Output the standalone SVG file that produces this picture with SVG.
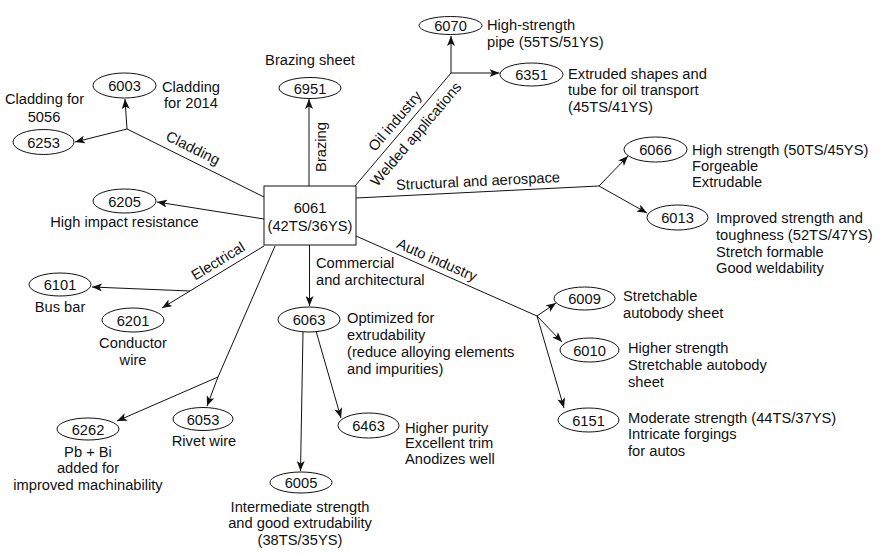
<svg xmlns="http://www.w3.org/2000/svg" width="883" height="555" viewBox="0 0 883 555">
<defs>
<marker id="ah" viewBox="0 0 10 8" refX="10" refY="4" markerWidth="10" markerHeight="8" markerUnits="userSpaceOnUse" orient="auto">
<path d="M0,0 L10,4 L0,8 L2.5,4 z" fill="#111"/>
</marker>
<style>
text{font-family:"Liberation Sans",Arial,sans-serif;font-size:14.7px;fill:#111}
.c{text-anchor:middle}
.n ellipse{fill:#fff;stroke:#111;stroke-width:1}
.n text{text-anchor:middle}
#conn line,#conn polyline{stroke:#111;stroke-width:1;fill:none}
.a{marker-end:url(#ah)}
</style>
</defs>
<rect width="883" height="555" fill="#fff"/>

<g id="conn">
<line x1="264" y1="197" x2="127" y2="129"/>
<line class="a" x1="127" y1="129" x2="125" y2="99"/>
<line class="a" x1="127" y1="129" x2="75" y2="142"/>
<line class="a" x1="264" y1="219" x2="157" y2="202"/>
<line class="a" x1="264" y1="246" x2="162" y2="308"/>
<line class="a" x1="190" y1="291" x2="92" y2="287"/>
<line x1="275" y1="246" x2="218" y2="377"/>
<line class="a" x1="218" y1="377" x2="207" y2="406"/>
<line class="a" x1="218" y1="377" x2="117" y2="421"/>
<line class="a" x1="309.5" y1="245" x2="309.5" y2="306"/>
<line class="a" x1="303" y1="332" x2="300.5" y2="471"/>
<line class="a" x1="316" y1="331" x2="341" y2="418"/>
<line class="a" x1="309" y1="186" x2="309" y2="99"/>
<line x1="355" y1="186" x2="451" y2="73"/>
<line class="a" x1="451" y1="73" x2="451" y2="36"/>
<line class="a" x1="451" y1="73" x2="499.5" y2="73"/>
<line x1="356" y1="198" x2="599" y2="186"/>
<line class="a" x1="599" y1="186" x2="628" y2="156"/>
<line class="a" x1="599" y1="186" x2="647" y2="213"/>
<line x1="356" y1="236" x2="537" y2="316"/>
<line class="a" x1="537" y1="316" x2="556" y2="303"/>
<line class="a" x1="537" y1="316" x2="562" y2="342"/>
<line class="a" x1="537" y1="316" x2="564" y2="408"/>
</g>

<g id="labels">
<text class="c" transform="translate(193,148) rotate(26.4)" y="5">Cladding</text>
<text class="c" transform="translate(320.5,147) rotate(-90)" y="5">Brazing</text>
<text class="c" transform="translate(395,121) rotate(-49.6)" y="5">Oil industry</text>
<text class="c" transform="translate(416,134) rotate(-49.6)" y="5">Welded applications</text>
<text class="c" transform="translate(478,181) rotate(-2.8)" y="5">Structural and aerospace</text>
<text class="c" transform="translate(437,260) rotate(23.7)" y="5">Auto industry</text>
<text class="c" transform="translate(218,261) rotate(-31.3)" y="5">Electrical</text>
<text x="316" y="268">Commercial</text>
<text x="316" y="285">and architectural</text>
</g>

<g id="n6061">
<rect x="264" y="186" width="92" height="59" fill="#fff" stroke="#111" stroke-width="1"/>
<text class="c" x="310" y="213">6061</text>
<text class="c" x="310" y="231">(42TS/36YS)</text>
</g>

<g id="n6003" class="n">
<ellipse cx="124.5" cy="85.5" rx="31.5" ry="12.5"/>
<text x="124.5" y="91">6003</text>
<text x="162" y="92" style="text-anchor:start">Cladding</text>
<text x="164" y="108" style="text-anchor:start">for 2014</text>
</g>
<g id="n6253" class="n">
<ellipse cx="43.5" cy="142" rx="30.5" ry="12.5"/>
<text x="43.5" y="147.5">6253</text>
<text x="44.5" y="104">Cladding for</text>
<text x="44" y="122">5056</text>
</g>
<g id="n6951" class="n">
<ellipse cx="310" cy="88" rx="31" ry="10.5"/>
<text x="310" y="93.5">6951</text>
<text x="310" y="65">Brazing sheet</text>
</g>
<g id="n6070" class="n">
<ellipse cx="450.5" cy="25.5" rx="31.5" ry="9"/>
<text x="450.5" y="31">6070</text>
<text x="487" y="30" style="text-anchor:start">High-strength</text>
<text x="487" y="47" style="text-anchor:start">pipe (55TS/51YS)</text>
</g>
<g id="n6351" class="n">
<ellipse cx="531.5" cy="74.5" rx="31.5" ry="11.5"/>
<text x="531.5" y="80">6351</text>
<text x="568" y="79" style="text-anchor:start">Extruded shapes and</text>
<text x="568" y="95" style="text-anchor:start">tube for oil transport</text>
<text x="568" y="112" style="text-anchor:start">(45TS/41YS)</text>
</g>
<g id="n6066" class="n">
<ellipse cx="655.5" cy="149.5" rx="31.5" ry="12.5"/>
<text x="655.5" y="155">6066</text>
<text x="692" y="155" style="text-anchor:start">High strength (50TS/45YS)</text>
<text x="692" y="171" style="text-anchor:start">Forgeable</text>
<text x="692" y="187" style="text-anchor:start">Extrudable</text>
</g>
<g id="n6013" class="n">
<ellipse cx="677.5" cy="217.5" rx="30.5" ry="12.5"/>
<text x="677.5" y="223">6013</text>
<text x="716" y="223" style="text-anchor:start">Improved strength and</text>
<text x="716" y="240" style="text-anchor:start">toughness (52TS/47YS)</text>
<text x="716" y="257" style="text-anchor:start">Stretch formable</text>
<text x="716" y="273" style="text-anchor:start">Good weldability</text>
</g>
<g id="n6205" class="n">
<ellipse cx="124.5" cy="201" rx="31.5" ry="12"/>
<text x="124.5" y="206.5">6205</text>
<text x="124.5" y="227">High impact resistance</text>
</g>
<g id="n6101" class="n">
<ellipse cx="60" cy="284.5" rx="31" ry="11.5"/>
<text x="60" y="290">6101</text>
<text x="60" y="312">Bus bar</text>
</g>
<g id="n6201" class="n">
<ellipse cx="133" cy="320" rx="31" ry="12"/>
<text x="133" y="325.5">6201</text>
<text x="133" y="348">Conductor</text>
<text x="133" y="365">wire</text>
</g>
<g id="n6063" class="n">
<ellipse cx="309" cy="319.5" rx="31" ry="12.5"/>
<text x="309" y="325">6063</text>
<text x="347" y="323" style="text-anchor:start">Optimized for</text>
<text x="347" y="340" style="text-anchor:start">extrudability</text>
<text x="347" y="357" style="text-anchor:start">(reduce alloying elements</text>
<text x="347" y="374" style="text-anchor:start">and impurities)</text>
</g>
<g id="n6009" class="n">
<ellipse cx="584.5" cy="298.5" rx="30.5" ry="11.5"/>
<text x="584.5" y="304">6009</text>
<text x="623" y="301" style="text-anchor:start">Stretchable</text>
<text x="623" y="318" style="text-anchor:start">autobody sheet</text>
</g>
<g id="n6010" class="n">
<ellipse cx="589.5" cy="350" rx="29.5" ry="12"/>
<text x="589.5" y="355.5">6010</text>
<text x="628" y="353" style="text-anchor:start">Higher strength</text>
<text x="628" y="370" style="text-anchor:start">Stretchable autobody</text>
<text x="628" y="387" style="text-anchor:start">sheet</text>
</g>
<g id="n6151" class="n">
<ellipse cx="588.5" cy="420" rx="30.5" ry="12"/>
<text x="588.5" y="425.5">6151</text>
<text x="628" y="423" style="text-anchor:start">Moderate strength (44TS/37YS)</text>
<text x="628" y="439" style="text-anchor:start">Intricate forgings</text>
<text x="628" y="456" style="text-anchor:start">for autos</text>
</g>
<g id="n6262" class="n">
<ellipse cx="88" cy="429" rx="31" ry="11"/>
<text x="88" y="434.5">6262</text>
<text x="88" y="457">Pb + Bi</text>
<text x="88" y="473">added for</text>
<text x="88" y="490">improved machinability</text>
</g>
<g id="n6053" class="n">
<ellipse cx="203" cy="419" rx="30" ry="11.5"/>
<text x="203" y="424.5">6053</text>
<text x="204" y="446">Rivet wire</text>
</g>
<g id="n6005" class="n">
<ellipse cx="301" cy="482.5" rx="31" ry="10.5"/>
<text x="301" y="488">6005</text>
<text x="300" y="512">Intermediate strength</text>
<text x="300" y="528">and good extrudability</text>
<text x="300" y="545">(38TS/35YS)</text>
</g>
<g id="n6463" class="n">
<ellipse cx="368.5" cy="425.5" rx="30.5" ry="12.5"/>
<text x="368.5" y="431">6463</text>
<text x="405" y="433" style="text-anchor:start">Higher purity</text>
<text x="405" y="448" style="text-anchor:start">Excellent trim</text>
<text x="405" y="464" style="text-anchor:start">Anodizes well</text>
</g>
</svg>
